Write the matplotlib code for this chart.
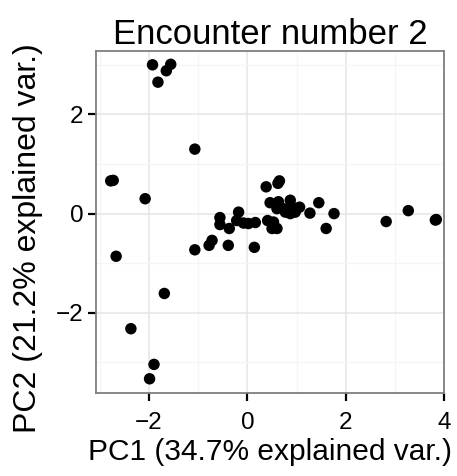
import matplotlib.pyplot as plt
from matplotlib.ticker import MultipleLocator

plt.rcParams['font.family'] = ['Liberation Sans', 'DejaVu Sans']

pc1 = [-1.93, -1.56, -1.65, -1.82, -1.07, -2.78, -2.73, -2.08, -2.67,
       -1.07, -0.78, -0.72, -0.39, 0.14, -1.69, -2.37, -1.90, -1.99,
       -0.56, -0.56, -0.37, -0.18, -0.22, -0.08, 0.02, 0.16, 0.38, 0.62,
       0.65, 0.46, 0.63, 0.60, 0.73, 0.87, 0.91, 0.87, 1.06, 0.97, 0.77,
       1.27, 1.45, 1.76, 1.60, 0.41, 0.53, 0.50, 0.60, 2.82, 3.27, 3.84,
       3.82]
pc2 = [3.00, 3.01, 2.88, 2.65, 1.30, 0.66, 0.67, 0.30, -0.86,
       -0.73, -0.64, -0.54, -0.64, -0.68, -1.61, -2.32, -3.04, -3.33,
       -0.08, -0.22, -0.30, 0.03, -0.14, -0.19, -0.20, -0.18, 0.54, 0.61,
       0.66, 0.22, 0.24, 0.10, 0.10, 0.27, 0.13, 0.00, 0.13, 0.03, 0.03,
       0.01, 0.22, 0.00, -0.30, -0.14, -0.17, -0.30, -0.30, -0.16, 0.06, -0.12,
       -0.13]

fig = plt.figure(figsize=(4.57, 4.76), dpi=100)
ax = fig.add_axes([0.210, 0.174, 0.762, 0.718])

ax.scatter(pc1, pc2, s=68, color='black', edgecolors='none', zorder=3)

ax.set_xlim(-3.08, 4.0)
ax.set_ylim(-3.62, 3.27)
ax.xaxis.set_major_locator(MultipleLocator(2))
ax.yaxis.set_major_locator(MultipleLocator(2))
ax.xaxis.set_minor_locator(MultipleLocator(1))
ax.yaxis.set_minor_locator(MultipleLocator(1))
ax.grid(True, which='major', color='#E5E5E5', linewidth=1.1, zorder=0)
ax.grid(True, which='minor', color='#F5F5F5', linewidth=0.9, zorder=0)
ax.set_axisbelow(True)
ax.tick_params(which='major', length=6, width=1.6, color='black',
               labelsize=17.5, labelcolor='black')
ax.tick_params(axis='x', pad=7.5)
ax.tick_params(axis='y', pad=3)
ax.tick_params(which='minor', length=0)
for s in ax.spines.values():
    s.set_color('#7F7F7F')
    s.set_linewidth(1.3)

ax.set_xlabel('PC1 (34.7% explained var.)', fontsize=21.5, labelpad=3)
ax.set_ylabel('PC2 (21.2% explained var.)', fontsize=23)
ax.yaxis.set_label_coords(-0.152, 0.453)
ax.set_title('Encounter number 2', fontsize=25, pad=1)

fig.savefig('out.png', dpi=100)
